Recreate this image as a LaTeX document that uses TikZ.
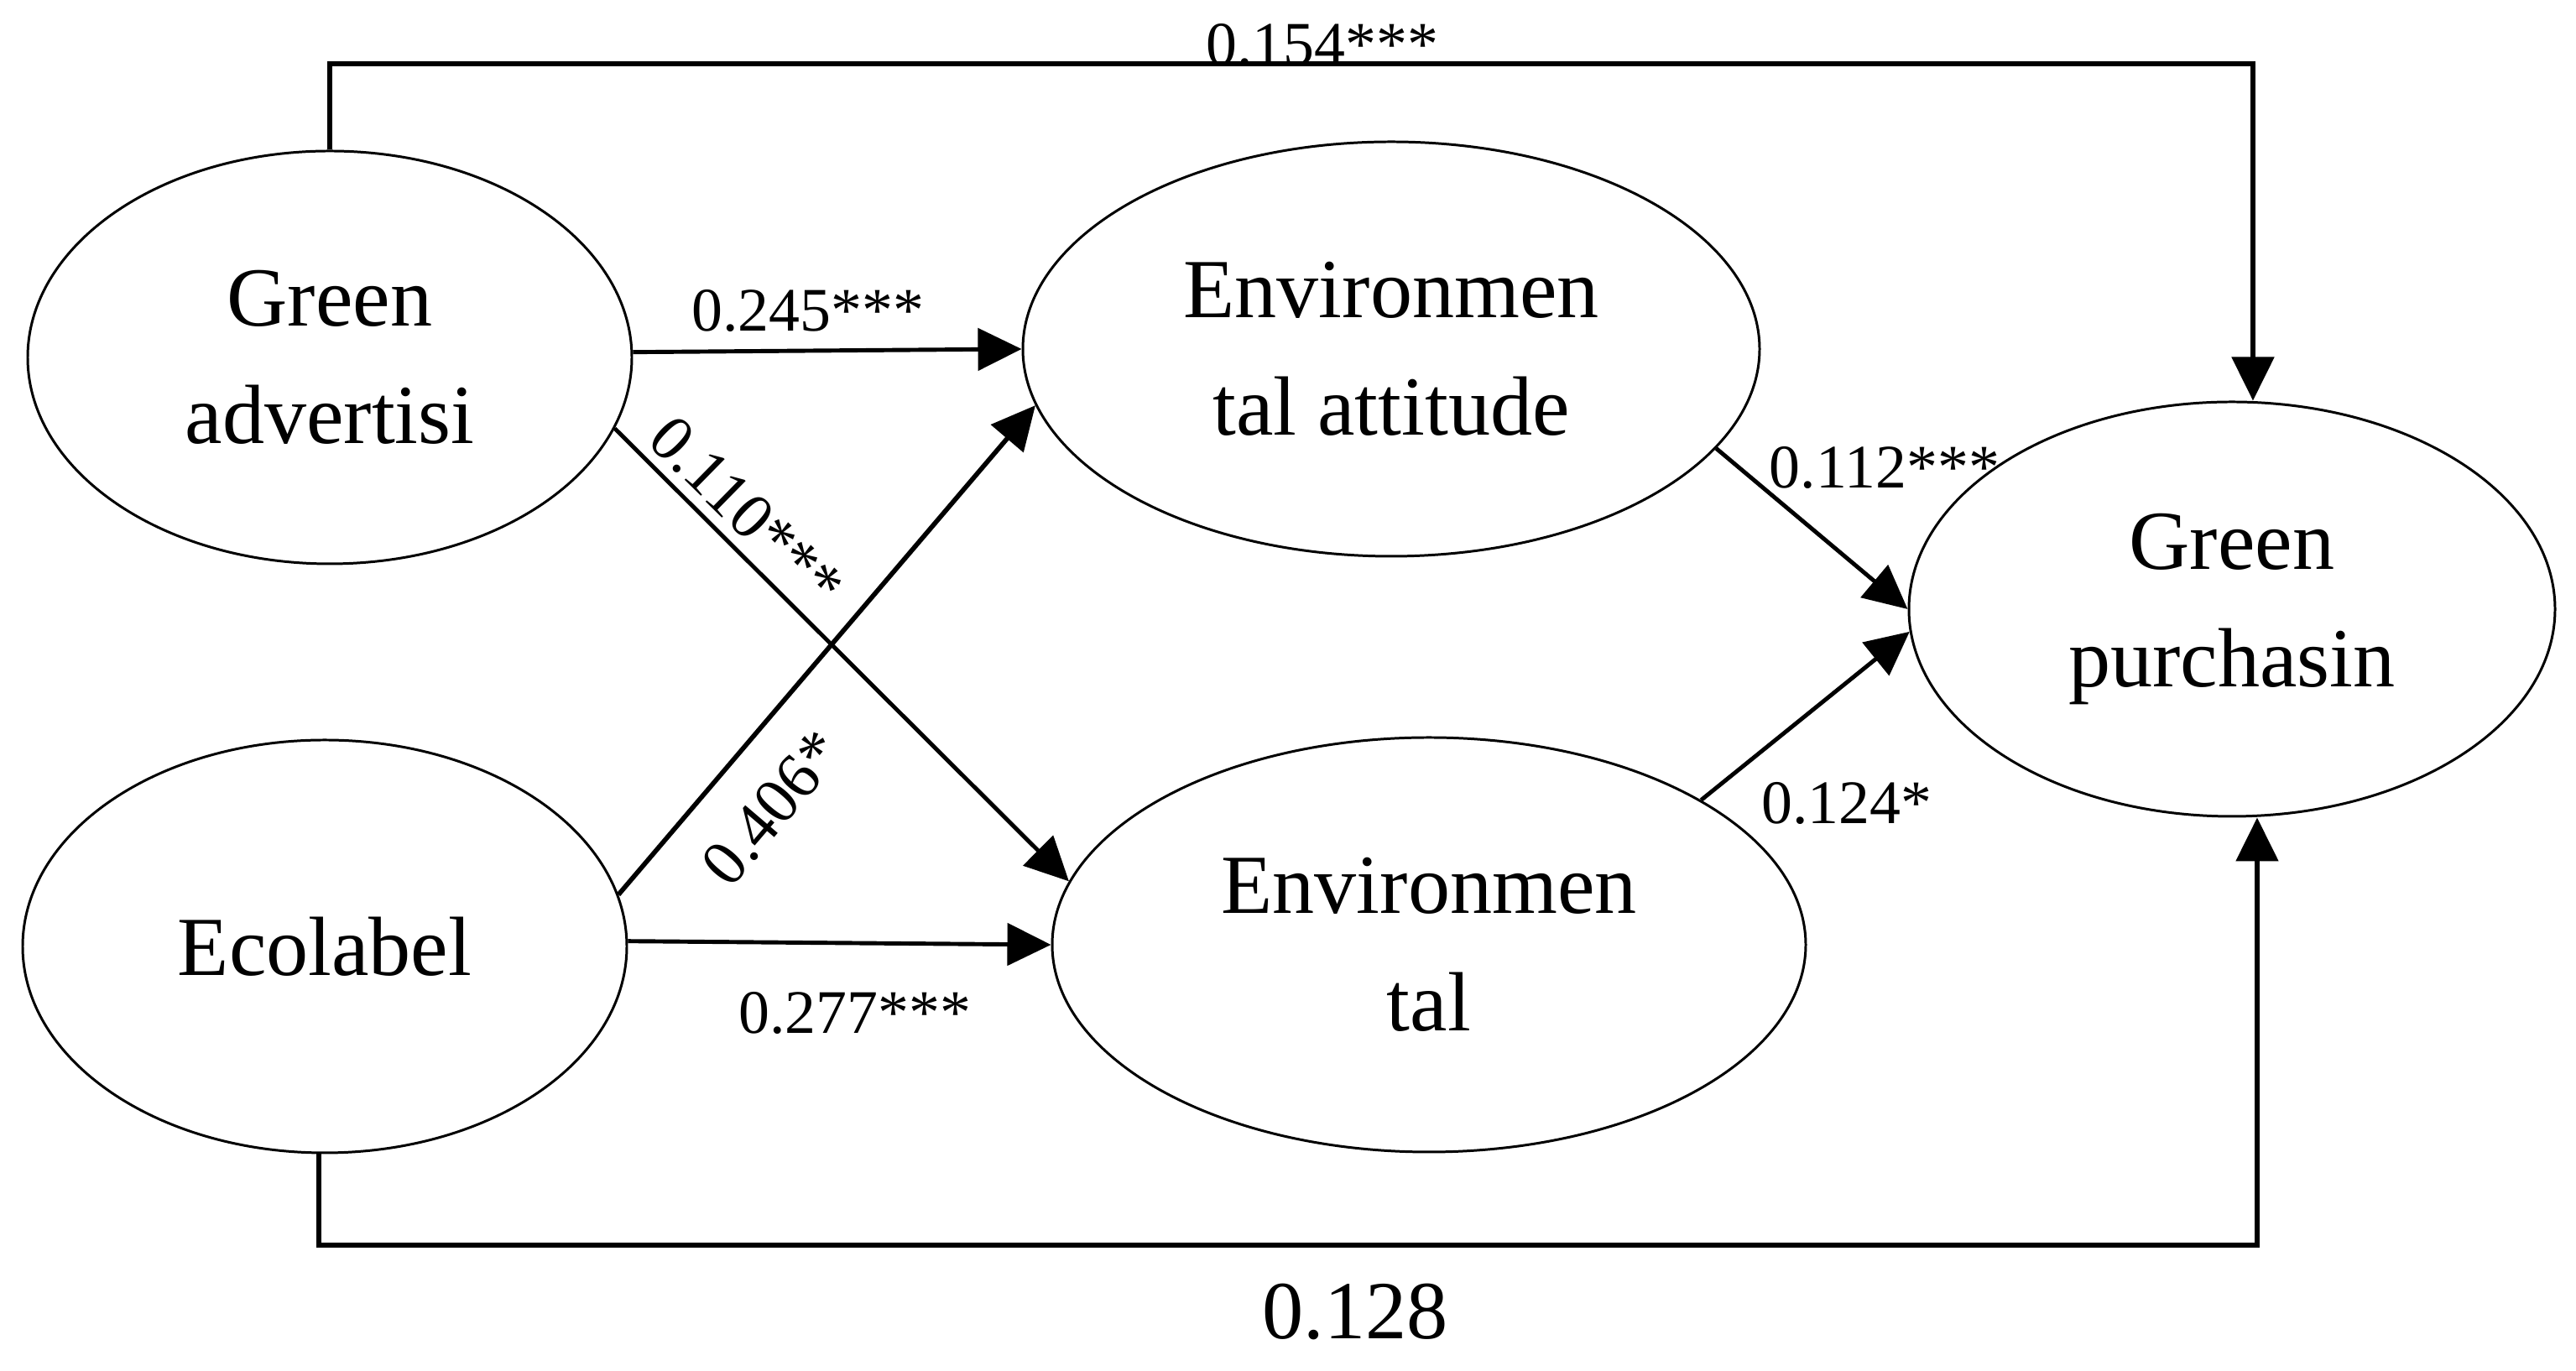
\documentclass[tikz,border=0pt]{standalone}
\usepackage{fontspec}
\setmainfont{Liberation Serif}
\usetikzlibrary{arrows.meta,shapes.geometric}
\begin{document}
\begin{tikzpicture}[
  latent/.style={draw,line width=0.85pt,ellipse,inner sep=0pt,align=center,
    font=\fontsize{28.5}{40}\selectfont},
  conn/.style={line width=1.4pt,-{Triangle[length=0.52cm,width=0.5cm]}},
  route/.style={line width=1.5pt,-{Triangle[length=0.52cm,width=0.5cm]}},
  coef/.style={font=\fontsize{21}{24}\selectfont,inner sep=0pt},
  coefrot/.style={font=\fontsize{22}{24}\selectfont,inner sep=0pt},
  coefbig/.style={font=\fontsize{28}{32}\selectfont,inner sep=0pt}
]
\useasboundingbox (0,0) rectangle (30.70,16.34);
% nodes
\node[latent,minimum width=7.20cm,minimum height=4.92cm] (GA) at (3.93,12.08) {Green\\advertisi};
\node[latent,minimum width=7.20cm,minimum height=4.92cm] (EC) at (3.87,5.06) {Ecolabel};
\node[latent,minimum width=8.78cm,minimum height=4.94cm] (EA) at (16.58,12.18) {Environmen\\tal attitude};
\node[latent,minimum width=8.98cm,minimum height=4.94cm] (EN) at (17.03,5.08) {Environmen\\tal};
\node[latent,minimum width=7.70cm,minimum height=4.94cm] (GP) at (26.60,9.08) {Green\\purchasin};
% route coordinates
\coordinate (topL) at (3.93,15.58);
\coordinate (topR) at (26.85,15.58);
\coordinate (botL) at (3.80,1.50);
\coordinate (botR) at (26.90,1.50);
% connectors
\draw[conn] (GA.1.75) -- (EA.180);
\draw[conn] (GA.-14.95) -- (EN.170);
\draw[conn,line width=1.6pt] (EC.10.4) -- (EA.189.9);
\draw[conn] (EC.1.3) -- (EN.180);
\draw[conn] (EA.-17.9) -- (GP.180);
\draw[conn] (EN.28.96) -- (GP.184);
\draw[route] (GA.north -| topL) -- (topL) -- (topR) -- (topR |- GP.north);
\draw[route] (EC.south -| botL) -- (botL) -- (botR) -- (botR |- GP.south);
% labels
\node[coef,anchor=base] (l154) at (15.76,15.56) {0.154***};
\node[coef,anchor=base] (l245) at (9.63,12.39) {0.245***};
\node[coefrot,rotate=-44.5] (l110) at (8.90,10.24) {0.110***};
\node[coefrot,rotate=49.5] (l406) at (9.20,6.71) {0.406*};
\node[coef,anchor=base] (l277) at (10.19,4.02) {0.277***};
\node[coef,anchor=base] (l112) at (22.46,10.52) {0.112***};
\node[coef,anchor=base] (l124) at (22.01,6.52) {0.124*};
\node[coefbig,anchor=base] (l128) at (16.15,0.38) {0.128};
\end{tikzpicture}
\end{document}
